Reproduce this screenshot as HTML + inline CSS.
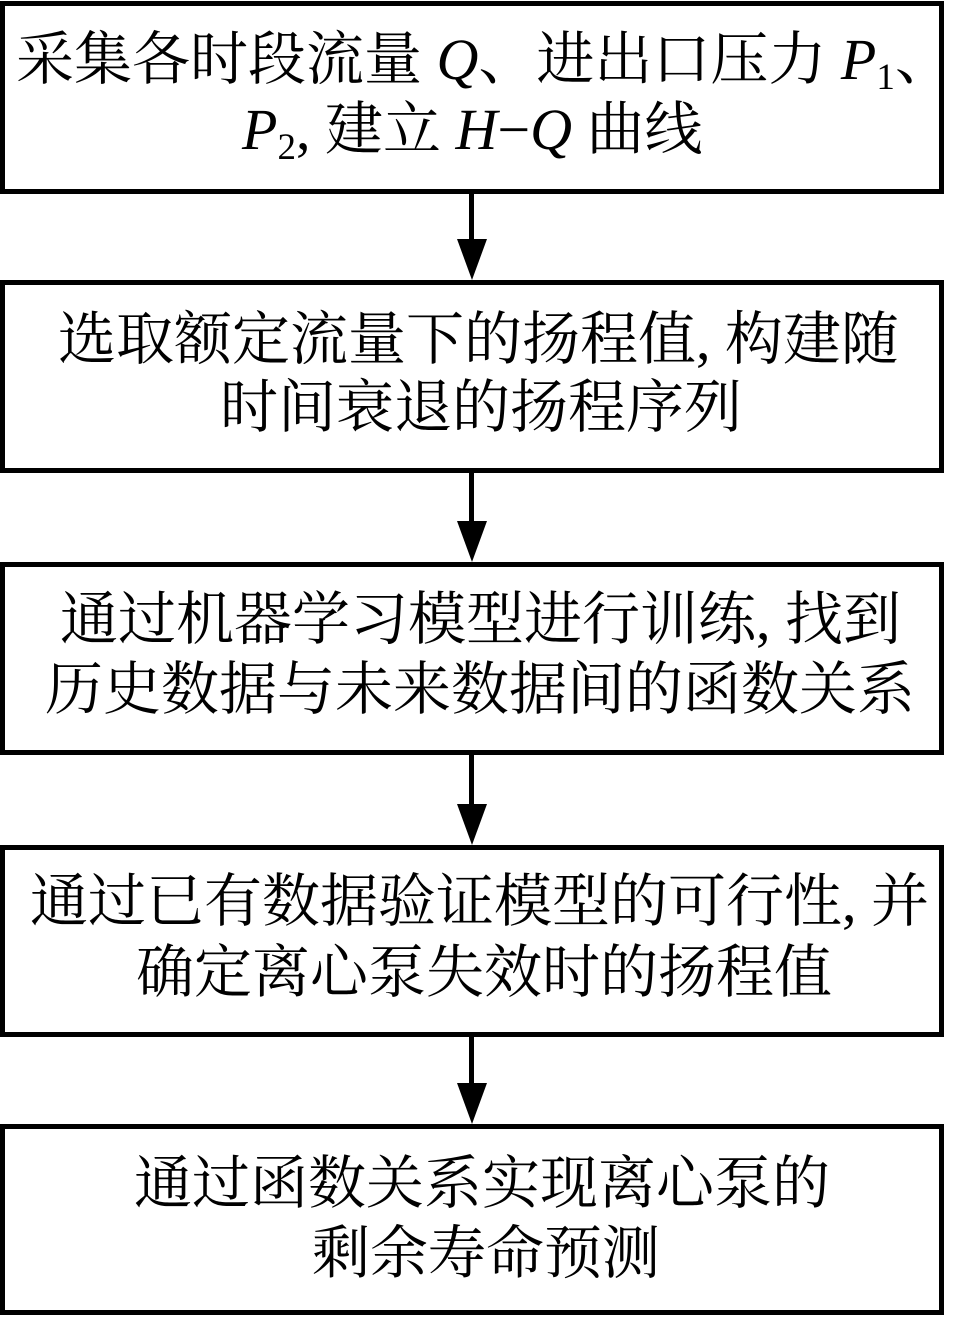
<!DOCTYPE html>
<html><head><meta charset="utf-8"><style>
html,body{margin:0;padding:0;background:#fff;}
body{width:961px;height:1319px;position:relative;overflow:hidden;}
.box{position:absolute;left:0;width:934px;border:5px solid #000;background:#fff;}
.t{position:absolute;white-space:nowrap;font-family:"Liberation Serif","Noto Serif CJK SC",serif;font-size:58px;line-height:58px;height:58px;color:#000;}
i{font-family:"Liberation Serif",serif;font-style:italic;}
sub{font-size:37px;vertical-align:-10px;line-height:0;font-style:normal;}
.ln{position:absolute;left:469px;width:5px;background:#000;}
.ah{position:absolute;left:457px;width:0;height:0;border-left:15px solid transparent;border-right:15px solid transparent;border-top:41px solid #000;}
</style></head><body>
<div class="box" style="top:1px;height:183px"></div>
<div class="box" style="top:280px;height:183px"></div>
<div class="box" style="top:562px;height:183px"></div>
<div class="box" style="top:845px;height:182px"></div>
<div class="box" style="top:1124px;height:181px"></div>

<div class="ln" style="top:194px;height:50px"></div><div class="ah" style="top:239px"></div>
<div class="ln" style="top:473px;height:50px"></div><div class="ah" style="top:521px"></div>
<div class="ln" style="top:755px;height:50px"></div><div class="ah" style="top:804px"></div>
<div class="ln" style="top:1037px;height:48px"></div><div class="ah" style="top:1083px"></div>

<div class="t" style="left:16px;top:31px">采集各时段流量 <i>Q</i>、进出口压力 <i>P</i><sub>1</sub>、</div>
<div class="t" style="left:242px;top:101px"><i>P</i><sub>2</sub>, 建立 <i>H</i>−<i>Q</i> 曲线</div>

<div class="t" style="left:58px;top:311px">选取额定流量下的扬程值, 构建随</div>
<div class="t" style="left:220px;top:379px">时间衰退的扬程序列</div>

<div class="t" style="left:60px;top:591px">通过机器学习模型进行训练, 找到</div>
<div class="t" style="left:45px;top:661px">历史数据与未来数据间的函数关系</div>

<div class="t" style="left:30px;top:873px">通过已有数据验证模型的可行性, 并</div>
<div class="t" style="left:136px;top:944px">确定离心泵失效时的扬程值</div>

<div class="t" style="left:134px;top:1155px">通过函数关系实现离心泵的</div>
<div class="t" style="left:312px;top:1225px">剩余寿命预测</div>
</body></html>
